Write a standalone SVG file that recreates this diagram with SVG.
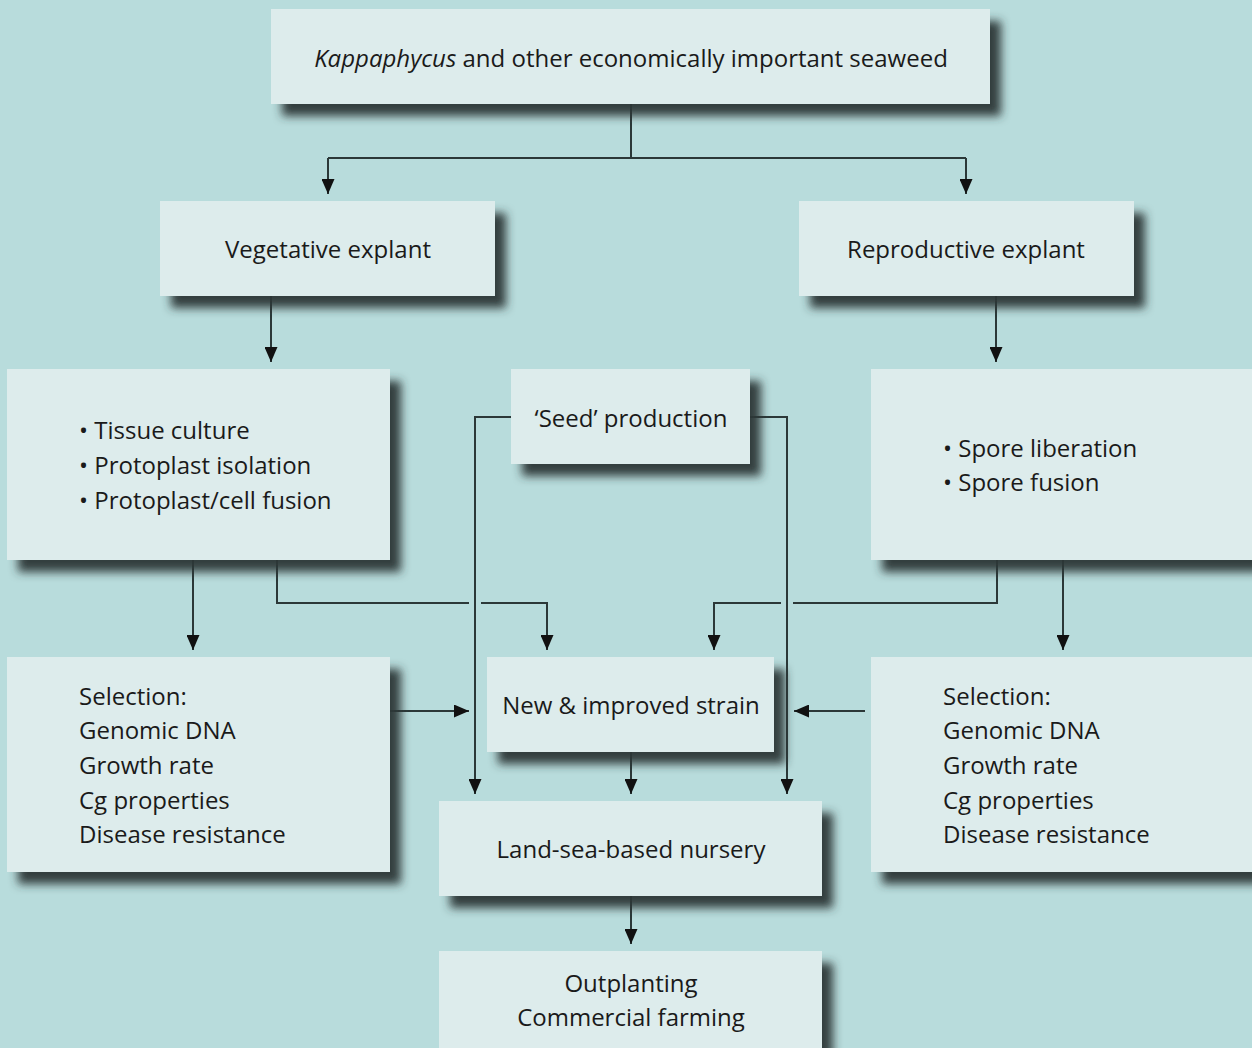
<svg xmlns="http://www.w3.org/2000/svg" width="1252" height="1048" viewBox="0 0 1252 1048">
<defs>
<filter id="sh" x="-10%" y="-10%" width="130%" height="150%">
<feDropShadow dx="11" dy="12" stdDeviation="5" flood-color="#2a3535" flood-opacity="0.95"/>
</filter>
<marker id="ah" markerWidth="15" markerHeight="13" refX="15" refY="6.5" orient="auto" markerUnits="userSpaceOnUse">
<path d="M0,0 L15,6.5 L0,13 Z" fill="#111"/>
</marker>
</defs>
<style>
.box{fill:#ddecec;filter:url(#sh)}
text{font-family:"Open Sans","Noto Sans",sans-serif;font-size:24px;fill:#1a1a1a}
.c{text-anchor:middle}
.ln{fill:none;stroke:#2b3838;stroke-width:2}
.ar{fill:none;stroke:#2b3838;stroke-width:2;marker-end:url(#ah)}
</style>
<rect width="1252" height="1048" fill="#b8dcdc"/>
<g id="connectors">
<path class="ln" d="M631,104 V158 M328,158 H966"/>
<path class="ar" d="M328,158 V194"/>
<path class="ar" d="M966,158 V194"/>
<path class="ar" d="M271,296 V362"/>
<path class="ar" d="M996,296 V362"/>
<path class="ar" d="M511,417 H475 V794"/>
<path class="ar" d="M750,417 H787 V794"/>
<path class="ar" d="M193,560 V650"/>
<path class="ln" d="M277,560 V603 H469"/>
<path class="ar" d="M481,603 H547 V650"/>
<path class="ln" d="M997,560 V603 H793"/>
<path class="ar" d="M781,603 H714 V650"/>
<path class="ar" d="M1063,560 V650"/>
<path class="ar" d="M390,711 H469"/>
<path class="ar" d="M865,711 H794"/>
<path class="ar" d="M631,752 V794"/>
<path class="ar" d="M631,896 V944"/>
</g>
<g id="top">
<rect class="box" x="271" y="9" width="719" height="95"/>
<text class="c" x="631" y="67"><tspan font-style="italic">Kappaphycus</tspan> and other economically important seaweed</text>
</g>
<g id="veg">
<rect class="box" x="160" y="201" width="335" height="95"/>
<text class="c" x="328" y="258">Vegetative explant</text>
</g>
<g id="rep">
<rect class="box" x="799" y="201" width="335" height="95"/>
<text class="c" x="966" y="258">Reproductive explant</text>
</g>
<g id="vegmethods">
<rect class="box" x="7" y="369" width="383" height="191"/>
<text x="79" y="439">• Tissue culture</text>
<text x="79" y="474">• Protoplast isolation</text>
<text x="79" y="509">• Protoplast/cell fusion</text>
</g>
<g id="seed">
<rect class="box" x="511" y="369" width="239" height="95"/>
<text class="c" x="631" y="427">‘Seed’ production</text>
</g>
<g id="repmethods">
<rect class="box" x="871" y="369" width="390" height="191"/>
<text x="943" y="457">• Spore liberation</text>
<text x="943" y="491">• Spore fusion</text>
</g>
<g id="selleft">
<rect class="box" x="7" y="657" width="383" height="215"/>
<text x="79" y="705">Selection:</text>
<text x="79" y="739">Genomic DNA</text>
<text x="79" y="774">Growth rate</text>
<text x="79" y="809">Cg properties</text>
<text x="79" y="843">Disease resistance</text>
</g>
<g id="selright">
<rect class="box" x="871" y="657" width="390" height="215"/>
<text x="943" y="705">Selection:</text>
<text x="943" y="739">Genomic DNA</text>
<text x="943" y="774">Growth rate</text>
<text x="943" y="809">Cg properties</text>
<text x="943" y="843">Disease resistance</text>
</g>
<g id="strain">
<rect class="box" x="487" y="657" width="287" height="95"/>
<text class="c" x="631" y="714">New &amp; improved strain</text>
</g>
<g id="nursery">
<rect class="box" x="439" y="801" width="383" height="95"/>
<text class="c" x="631" y="858">Land-sea-based nursery</text>
</g>
<g id="outplant">
<rect class="box" x="439" y="951" width="383" height="110"/>
<text class="c" x="631" y="992">Outplanting</text>
<text class="c" x="631" y="1026">Commercial farming</text>
</g>
</svg>
